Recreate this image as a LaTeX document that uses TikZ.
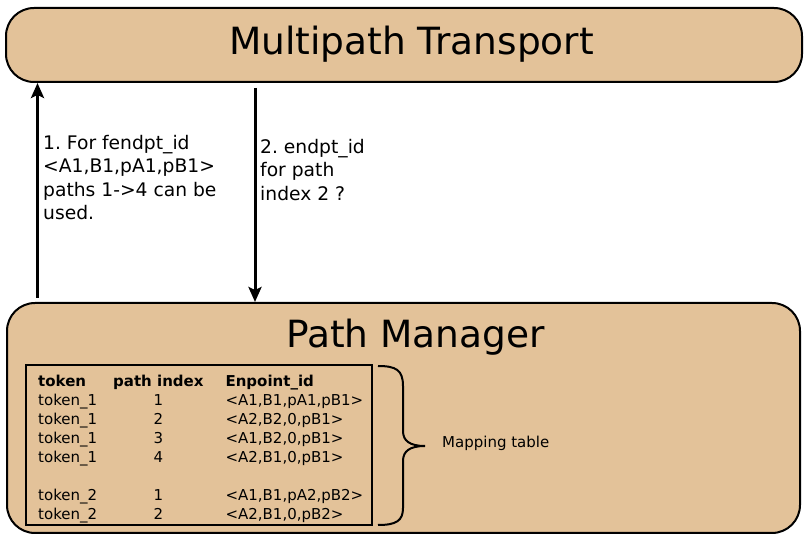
\documentclass[tikz,border=0pt]{standalone}
\usepackage{fontspec}
\setmainfont{DejaVu Sans}
\usetikzlibrary{arrows.meta}
\definecolor{boxtan}{RGB}{227,194,153}
\frenchspacing

\begin{document}
\begin{tikzpicture}[x=1pt,y=-1pt,
		block/.style={draw,line width=2pt,fill=boxtan,rounded corners=28pt,inner sep=0pt},
		title/.style={anchor=base,font=\fontsize{37.5}{45}\selectfont},
		flow/.style={line width=3pt,-{Stealth[length=15pt,width=13pt,inset=3pt]}},
		note/.style={inner sep=0pt,anchor=north west,align=left,font=\fontsize{18.7}{23.3}\selectfont},
		small/.style={inner sep=0pt,font=\fontsize{15}{19}\selectfont}]
			\useasboundingbox (0,0) rectangle (804,534);
			\node[block,minimum width=796pt,minimum height=74pt] (mt) at (404,45) {};
			\node[title] (mttext) at (411.5,54.5) {Multipath Transport};
			\node[block,minimum width=793pt,minimum height=230pt] (pm) at (403.5,418) {};
			\node[title] (pmtext) at (415.5,347.5) {Path Manager};
			\coordinate (up) at (37.5,298);
			\coordinate (down) at (255,88);
			\draw[flow] (up)--(up |- mt.south);
			\draw[flow] (down)--(down |- pm.north);
			\node[note] (n1) at (43,135) {1. For fendpt\_id\\<A1,B1,pA1,pB1>\\paths 1->4 can be\\used.};
			\node[note] (n2) at (260,139) {2. endpt\_id\\for path\\index 2 ?};
			\node[draw,line width=2pt,minimum width=346pt,minimum height=160pt,inner sep=0pt] (tab) at (199,445) {};
			\node[small,anchor=north west] (rows) at (38,372.7) {%
				\begin{tabular}{@{}p{75pt}@{}c@{\hspace{22pt}}l@{}}
					\textbf{token} & \textbf{path index} & \textbf{Enpoint\_id}\\
					token\_1 & 1 & <A1,B1,pA1,pB1>\\
					token\_1 & 2 & <A2,B2,0,pB1>\\
					token\_1 & 3 & <A1,B2,0,pB1>\\
					token\_1 & 4 & <A2,B1,0,pB1>\\
					& & \\
					token\_2 & 1 & <A1,B1,pA2,pB2>\\
					token\_2 & 2 & <A2,B1,0,pB2>\\
				\end{tabular}};
			% brace
			\draw[line width=2pt] (378,366) .. controls (396,366) and (403,370) .. (403,386)--(403,431)
				.. controls (403,441) and (410,446) .. (425,446) .. controls (410,446) and (403,451) .. (403,461)
				--(403,508) .. controls (403,521) and (396,525) .. (378,525);
			\node[small,anchor=base west] (maplbl) at (442,448) {Mapping table};
		\end{tikzpicture}
\end{document}
